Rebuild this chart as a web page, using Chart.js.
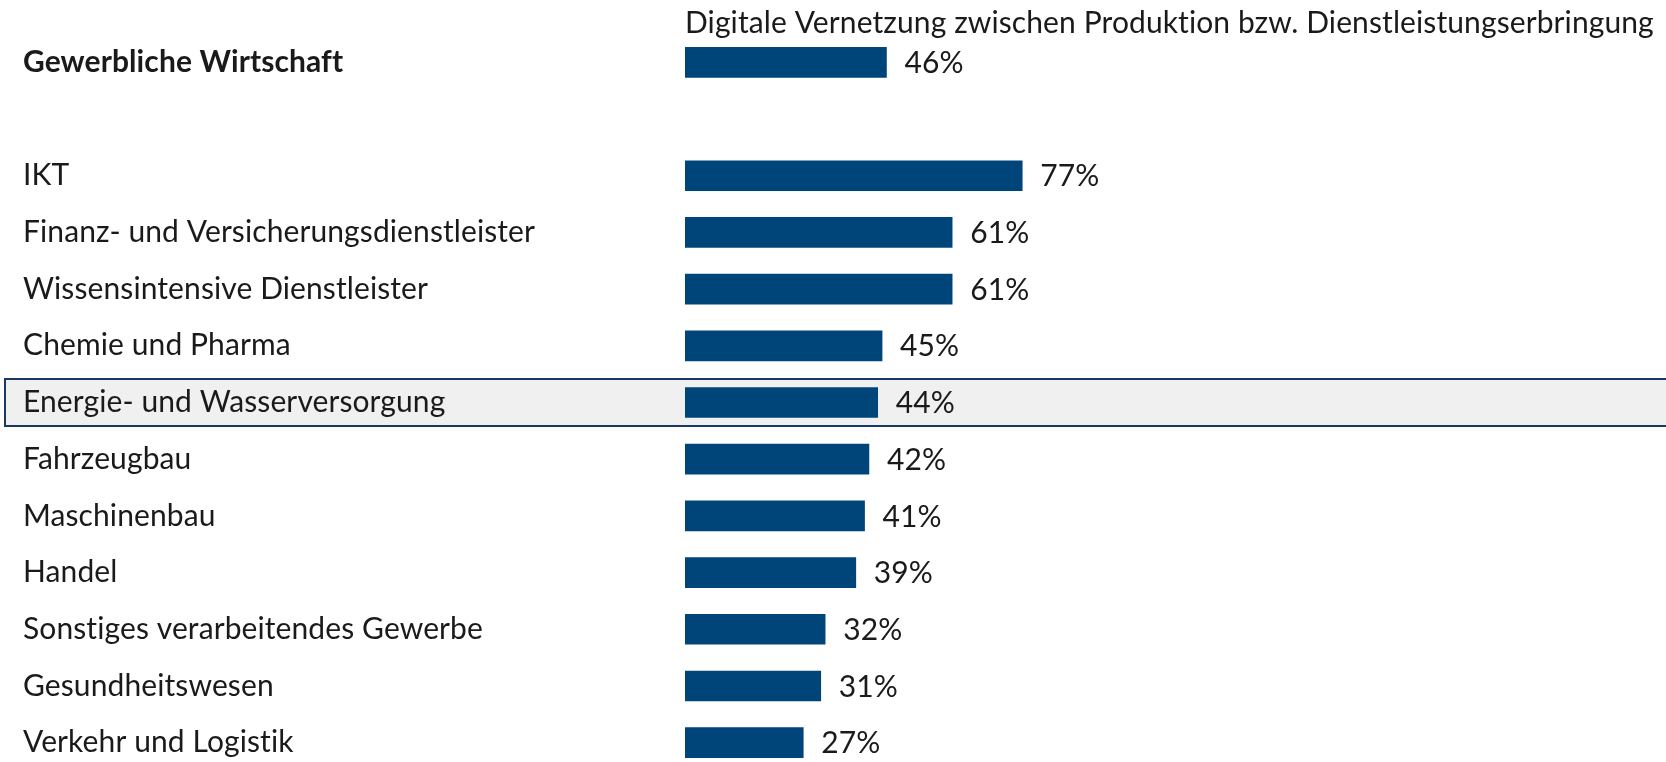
<!DOCTYPE html>
<html>
<head>
<meta charset="utf-8">
<script src="https://cdn.jsdelivr.net/npm/chart.js@4"></script>
<style>
  html, body { margin: 0; padding: 0; background: #fff; overflow: hidden; }
  #wrap { width: 1666px; height: 792px; position: relative; }
</style>
</head>
<body>
<div id="wrap"><canvas id="chartCanvas"></canvas></div>
<script>
// Branchen (empty entry = gap row below the total)
const categories = [
    "Gewerbliche Wirtschaft",
    "",
    "IKT",
    "Finanz- und Versicherungsdienstleister",
    "Wissensintensive Dienstleister",
    "Chemie und Pharma",
    "Energie- und Wasserversorgung",
    "Fahrzeugbau",
    "Maschinenbau",
    "Handel",
    "Sonstiges verarbeitendes Gewerbe",
    "Gesundheitswesen",
    "Verkehr und Logistik"
];
const values = [46, null, 77, 61, 61, 45, 44, 42, 41, 39, 32, 31, 27];
const seriesTitle = "Digitale Vernetzung zwischen Produktion bzw. Dienstleistungserbringung";
const highlighted = "Energie- und Wasserversorgung";

const barColor = "#00457a";
const textColor = "#1a1a1a";
const fontFamily = "Lato, 'Open Sans', sans-serif";
const fontSize = 30;

// Grey box with dark border behind the highlighted row
const highlightPlugin = {
    id: "highlightRow",
    beforeDraw(chart) {
        // tiny letter spacing so Lato doesn't build "ti" ligatures
        chart.ctx.letterSpacing = "0.1px";
        const idx = categories.indexOf(highlighted);
        const yc = chart.scales.y.getPixelForValue(idx);
        const h = 47;
        const c = chart.ctx;
        c.save();
        c.fillStyle = "#f0f0f0";
        c.fillRect(4, yc - h / 2, chart.width + 10, h);
        c.strokeStyle = "#173a64";
        c.lineWidth = 2;
        c.strokeRect(5, yc - h / 2, chart.width + 10, h);
        c.restore();
    }
};

// Percent labels right of each bar
const valueLabels = {
    id: "valueLabels",
    afterDatasetsDraw(chart) {
        const c = chart.ctx;
        const meta = chart.getDatasetMeta(0);
        c.save();
        c.font = fontSize + "px " + fontFamily;
        c.fillStyle = textColor;
        c.textAlign = "left";
        c.textBaseline = "middle";
        meta.data.forEach((bar, i) => {
            if (values[i] === null) return;
            c.fillText(values[i] + "%", bar.x + 18, bar.y + 1);
        });
        c.restore();
    }
};

const ctx = document.getElementById("chartCanvas").getContext("2d");
const chart = new Chart(ctx, {
    type: "bar",
    data: {
        labels: categories,
        datasets: [{
            label: seriesTitle,
            data: values,
            backgroundColor: barColor,
            barThickness: 30,
        }],
    },
    options: {
        indexAxis: "y",
        responsive: true,
        maintainAspectRatio: false,
        animation: false,
        layout: {
            padding: { left: 23, right: 0, top: 0, bottom: 0 },
        },
        plugins: {
            legend: { display: false },
            tooltip: { enabled: false },
        },
        scales: {
            x: {
                position: "top",
                min: 0,
                max: 224,
                grid: { display: false },
                border: { display: false },
                ticks: { display: false },
                title: {
                    display: true,
                    text: seriesTitle,
                    align: "start",
                    color: textColor,
                    font: { family: fontFamily, size: fontSize },
                    padding: { top: 5, bottom: 0 },
                },
                afterFit(scale) {
                    scale.height = 34;
                },
            },
            y: {
                grid: { display: false },
                border: { display: false },
                ticks: {
                    crossAlign: "far",
                    color: textColor,
                    font: (c) => ({
                        family: fontFamily,
                        size: fontSize,
                        weight: c.index === 0 ? "bold" : "normal",
                    }),
                },
                afterFit(scale) {
                    scale.width = 685 - 23;
                },
            },
        },
    },
    plugins: [highlightPlugin, valueLabels],
});
</script>
</body>
</html>
